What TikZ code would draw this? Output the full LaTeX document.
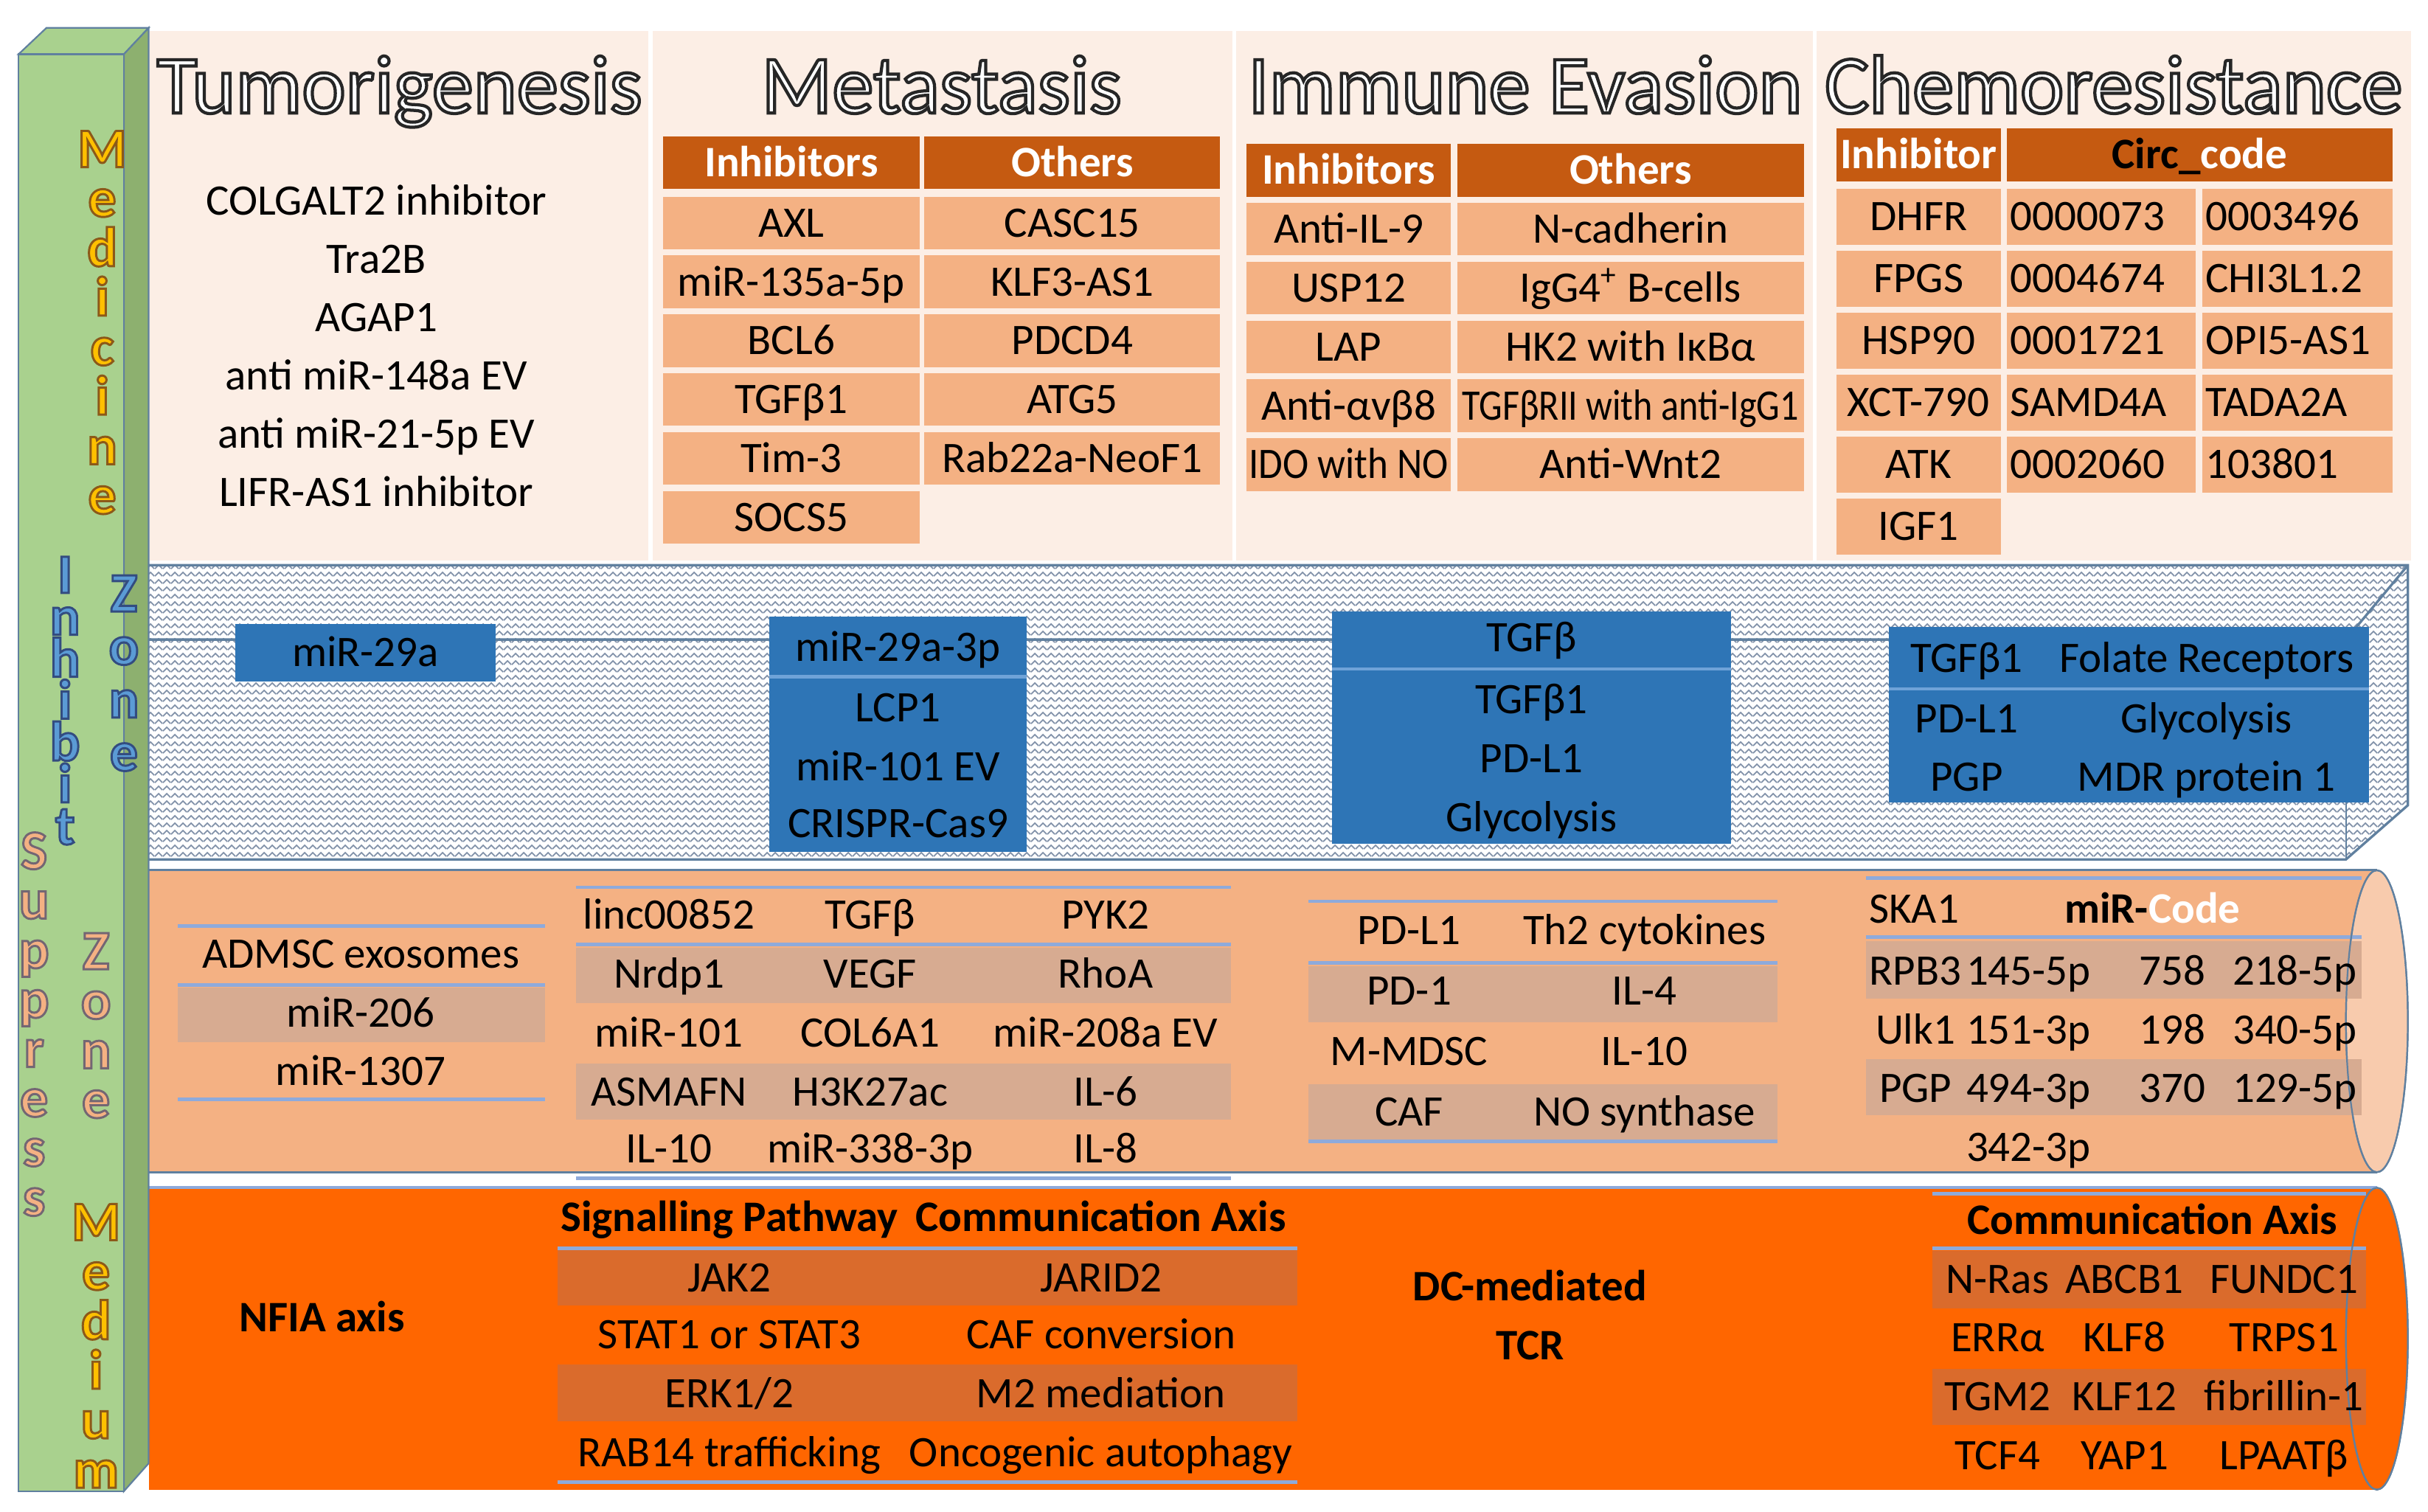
\documentclass[tikz,border=0pt]{standalone}
\usepackage{fontspec}
\usepackage{graphicx}
\setmainfont{Carlito}
\usetikzlibrary{patterns}
\definecolor{peach}{HTML}{FCEEE5}
\definecolor{hdr}{HTML}{C55A11}
\definecolor{cellc}{HTML}{F4B183}
\definecolor{bluebox}{HTML}{2E75B6}
\definecolor{bluesep}{HTML}{6FA3D8}
\definecolor{shadeA}{HTML}{D7AB91}
\definecolor{medorange}{HTML}{FF6600}
\definecolor{shadeB}{HTML}{DA6B2C}
\definecolor{rule}{HTML}{8EAADB}
\definecolor{edge}{HTML}{60809F}
\definecolor{grn}{HTML}{A9D18E}
\definecolor{grnside}{HTML}{8DB06F}
\definecolor{capc}{HTML}{F8CBAD}
\definecolor{hatch}{HTML}{8393AA}
\definecolor{gold}{HTML}{FFC000}
\definecolor{lblue}{HTML}{5B9BD5}
\definecolor{salm}{HTML}{F4B183}
\pgfdeclarepatternformonly{zigz}{\pgfqpoint{0pt}{0pt}}{\pgfqpoint{3pt}{2.7pt}}{\pgfqpoint{3pt}{2.7pt}}{%
 \pgfsetlinewidth{0.5pt}%
 \pgfpathmoveto{\pgfqpoint{0pt}{0.5pt}}%
 \pgfpathlineto{\pgfqpoint{1.5pt}{1.9pt}}%
 \pgfpathlineto{\pgfqpoint{3pt}{0.5pt}}%
 \pgfusepath{stroke}}
\newcommand\body{\fontsize{16}{19}\selectfont}
\newcommand\ttl{\fontsize{30.5}{36}\selectfont}
\newcommand\outl[3]{\special{pdf:literal direct 2 Tr #2 w #1 RG}#3\special{pdf:literal direct 0 Tr 0.4 w}}
\newcommand\lgo[1]{\outl{0.55 0.35 0.1}{0.8}{#1}}
\newcommand\lbl[1]{\outl{0.2 0.3 0.5}{0.8}{#1}}
\newcommand\lsa[1]{\outl{0.45 0.4 0.45}{0.8}{#1}}
\newcommand\hd[1]{\textcolor{white}{\bfseries #1}}
\newcommand\cel[7]{\fill[#1] ({#3},{#4}) rectangle ({#5},{#6}); \node[txt] (#2) at ({(#3+#5)/2},{(#4+#6)/2}) {#7};}
\begin{document}
\begin{tikzpicture}[x=0.02cm,y=-0.02cm,
 txt/.style={inner sep=0pt,text height=10.3pt,text depth=0pt,font=\body},
 stk/.style={inner sep=0pt,anchor=north,align=center,font={\fontsize{20.5}{#1}\selectfont\bfseries}},
 tnode/.style={inner sep=0pt,anchor=base,font=\ttl,text=white},
 rl/.style={draw=rule,line width=1.3pt}]
\useasboundingbox (0,0) rectangle (1568,976);
\fill[white] (0,0) rectangle (1568,976);
% top panel
\fill[peach] (96,20) rectangle (1557,362);
\foreach \xx in {420,797,1172} \draw[white,line width=1.5pt] (\xx,20) -- (\xx,362);
% inhibit band
\path[fill=white] (96,365) -- (1555,365) -- (1555,520) -- (1515,555) -- (96,555) -- cycle;
\path[pattern=zigz,pattern color=hatch] (96,365) -- (1555,365) -- (1555,520) -- (1515,555) -- (96,555) -- cycle;
\draw[edge,line width=0.9pt] (96,365) -- (1555,365) -- (1555,520) -- (1515,555) -- (96,555);
\draw[edge,line width=0.9pt] (96,413) -- (1515,413) -- (1555,365);
\draw[edge,line width=0.6pt] (1515,413) -- (1515,555);
% blue boxes
\fill[bluebox] (152,403) rectangle (320,440);
\node[txt] (b1) at (236,421.5) {miR-29a};
\fill[bluebox] (497,398) rectangle (663,550);
\draw[bluesep,line width=1.2pt] (497,437) -- (663,437);
\node[txt] (b2a) at (580,418) {miR-29a-3p};
\node[txt] (b2b) at (580,457) {LCP1};
\node[txt] (b2c) at (580,495) {miR-101 EV};
\node[txt] (b2d) at (580,532) {CRISPR-Cas9};
\fill[bluebox] (860,395) rectangle (1118,545);
\draw[bluesep,line width=1.2pt] (860,432) -- (1118,432);
\node[txt] (b3a) at (989,412) {TGFβ};
\node[txt] (b3b) at (989,452) {TGFβ1};
\node[txt] (b3c) at (989,490) {PD-L1};
\node[txt] (b3d) at (989,528) {Glycolysis};
\fill[bluebox] (1220,405) rectangle (1530,518);
\draw[bluesep,line width=1.2pt] (1220,445) -- (1530,445);
\node[txt] (b4a) at (1270,425) {TGFβ1};
\node[txt] (b4b) at (1425,425) {Folate Receptors};
\node[txt] (b4c) at (1270,464) {PD-L1};
\node[txt] (b4d) at (1425,464) {Glycolysis};
\node[txt] (b4e) at (1270,502) {PGP};
\node[txt] (b4f) at (1425,502) {MDR protein 1};
% suppress band
\fill[cellc] (96,562) rectangle (1535,757);
\filldraw[fill=capc,draw=edge,line width=0.6pt] (1535,659.5) ellipse [x radius=0.4cm, y radius=1.95cm];
\draw[edge,line width=0.8pt] (96,562) -- (1535,562) (96,757) -- (1535,757);
% medium band
\fill[medorange] (96,767) rectangle (1535,962);
\filldraw[fill=medorange,draw=edge,line width=0.6pt] (1535,864.5) ellipse [x radius=0.4cm, y radius=1.95cm];
\draw[rule,line width=1pt] (96,767) -- (1535,767);
% green bar
\filldraw[fill=grn,draw=edge,line width=0.6pt] (12,35) -- (30,18) -- (96,18) -- (80,35) -- cycle;
\filldraw[fill=grnside,draw=edge,line width=0.6pt] (80,35) -- (96,18) -- (96,945) -- (80,963) -- cycle;
\filldraw[fill=grn,draw=edge,line width=0.6pt] (12,35) rectangle (80,963);
% titles
\node[tnode] (t1) at (258,73) {\outl{0.15 0.15 0.15}{1.15}{Tumorigenesis}};
\node[tnode] (t2) at (608,73) {\outl{0.15 0.15 0.15}{1.15}{Metastasis}};
\node[tnode] (t3) at (985,73) {\outl{0.15 0.15 0.15}{1.15}{Immune Evasion}};
\node[tnode] (t4) at (1365,73) {\outl{0.15 0.15 0.15}{1.15}{Chemoresistance}};
% tumorigenesis list
\foreach \t [count=\i] in {COLGALT2 inhibitor, Tra2B, AGAP1, anti miR-148a EV, anti miR-21-5p EV, LIFR-AS1 inhibitor}
 \node[txt] (tum\i) at (243,{130+37.6*(\i-1)}) {\t};
% metastasis table
\cel{hdr}{mh1}{428}{88}{594}{122}{\hd{Inhibitors}}
\cel{hdr}{mh2}{597}{88}{788}{122}{\hd{Others}}
\cel{cellc}{ma1}{428}{127}{594}{161}{AXL}
\cel{cellc}{mb1}{597}{127}{788}{161}{CASC15}
\cel{cellc}{ma2}{428}{165}{594}{199}{miR-135a-5p}
\cel{cellc}{mb2}{597}{165}{788}{199}{KLF3-AS1}
\cel{cellc}{ma3}{428}{203}{594}{237}{BCL6}
\cel{cellc}{mb3}{597}{203}{788}{237}{PDCD4}
\cel{cellc}{ma4}{428}{241}{594}{275}{TGFβ1}
\cel{cellc}{mb4}{597}{241}{788}{275}{ATG5}
\cel{cellc}{ma5}{428}{279}{594}{313}{Tim-3}
\cel{cellc}{mb5}{597}{279}{788}{313}{Rab22a-NeoF1}
\cel{cellc}{ma6}{428}{317}{594}{351}{SOCS5}
% immune evasion table
\cel{hdr}{ih1}{805}{93}{937}{127}{\hd{Inhibitors}}
\cel{hdr}{ih2}{941}{93}{1165}{127}{\hd{Others}}
\cel{cellc}{ia1}{805}{131}{937}{165}{Anti-IL-9}
\cel{cellc}{ib1}{941}{131}{1165}{165}{N-cadherin}
\cel{cellc}{ia2}{805}{169}{937}{203}{USP12}
\cel{cellc}{ib2}{941}{169}{1165}{203}{IgG4\textsuperscript{+} B-cells}
\cel{cellc}{ia3}{805}{207}{937}{241}{LAP}
\cel{cellc}{ib3}{941}{207}{1165}{241}{HK2 with IκBα}
\cel{cellc}{ia4}{805}{245}{937}{279}{Anti-αvβ8}
\cel{cellc}{ib4}{941}{245}{1165}{279}{\scalebox{0.85}[1]{TGFβRII with anti-IgG1}}
\cel{cellc}{ia5}{805}{283}{937}{317}{\scalebox{0.9}[1]{IDO with NO}}
\cel{cellc}{ib5}{941}{283}{1165}{317}{Anti-Wnt2}
% chemoresistance table
\cel{hdr}{ch1}{1186}{83}{1292}{117}{\hd{Inhibitor}}
\cel{hdr}{ch2}{1296}{83}{1545}{117}{\textbf{Circ\_\textcolor{white}{code}}}
\foreach \a/\b/\c [count=\i] in {DHFR/0000073/0003496, FPGS/0004674/CHI3L1.2, HSP90/0001721/OPI5-AS1, XCT-790/SAMD4A/TADA2A, ATK/0002060/103801}{
 \pgfmathsetmacro\ya{122+40*(\i-1)}
 \pgfmathsetmacro\yb{158+40*(\i-1)}
 \pgfmathsetmacro\yc{140+40*(\i-1)}
 \cel{cellc}{ca\i}{1186}{\ya}{1292}{\yb}{\a}
 \fill[cellc] (1296,\ya) rectangle (1418,\yb);
 \fill[cellc] (1422,\ya) rectangle (1545,\yb);
 \node[txt,anchor=west] (cb\i) at (1298,\yc) {\b};
 \node[txt,anchor=west] (cc\i) at (1424,\yc) {\c};
}
\cel{cellc}{ca6}{1186}{322}{1292}{358}{IGF1}
% suppress zone contents: left group
\fill[shadeA] (115,638) rectangle (352,673);
\draw[rl] (115,598) -- (352,598) (115,636) -- (352,636) (115,710) -- (352,710);
\node[txt] (s1) at (233,616) {ADMSC exosomes};
\node[txt] (s2) at (233,654) {miR-206};
\node[txt] (s3) at (233,692) {miR-1307};
% middle group
\fill[shadeA] (372,612) rectangle (795,648);
\fill[shadeA] (372,687) rectangle (795,723);
\draw[rl] (372,573) -- (795,573) (372,610) -- (795,610) (372,761) -- (795,761);
\node[txt] (m11) at (432,591) {linc00852};
\node[txt] (m12) at (562,591) {TGFβ};
\node[txt] (m13) at (714,591) {PYK2};
\node[txt] (m21) at (432,629) {Nrdp1};
\node[txt] (m22) at (562,629) {VEGF};
\node[txt] (m23) at (714,629) {RhoA};
\node[txt] (m31) at (432,667) {miR-101};
\node[txt] (m32) at (562,667) {COL6A1};
\node[txt] (m33) at (714,667) {miR-208a EV};
\node[txt] (m41) at (432,705) {ASMAFN};
\node[txt] (m42) at (562,705) {H3K27ac};
\node[txt] (m43) at (714,705) {IL-6};
\node[txt] (m51) at (432,742) {IL-10};
\node[txt] (m52) at (562,742) {miR-338-3p};
\node[txt] (m53) at (714,742) {IL-8};
% third group
\fill[shadeA] (845,624) rectangle (1148,660);
\fill[shadeA] (845,700) rectangle (1148,736);
\draw[rl] (845,582) -- (1148,582) (845,622) -- (1148,622) (845,737) -- (1148,737);
\node[txt] (p11) at (910,601) {PD-L1};
\node[txt] (p12) at (1062,601) {Th2 cytokines};
\node[txt] (p21) at (910,640) {PD-1};
\node[txt] (p22) at (1062,640) {IL-4};
\node[txt] (p31) at (910,679) {M-MDSC};
\node[txt] (p32) at (1062,679) {IL-10};
\node[txt] (p41) at (910,718) {CAF};
\node[txt] (p42) at (1062,718) {NO synthase};
% right group
\fill[shadeA] (1205,608) rectangle (1525,645);
\fill[shadeA] (1205,684) rectangle (1525,720);
\draw[rl] (1205,567) -- (1525,567) (1205,605) -- (1525,605);
\draw[edge,line width=0.6pt] (1535,659.5) ellipse [x radius=0.4cm, y radius=1.95cm];
\node[txt] (r01) at (1236,587) {SKA1};
\node[txt] (r02) at (1390,587) {\textbf{miR-\textcolor{white}{Code}}};
\node[txt] (r11) at (1237,627) {RPB3};
\node[txt] (r12) at (1310,627) {145-5p};
\node[txt] (r13) at (1403,627) {758};
\node[txt] (r14) at (1482,627) {218-5p};
\node[txt] (r21) at (1237,665) {Ulk1};
\node[txt] (r22) at (1310,665) {151-3p};
\node[txt] (r23) at (1403,665) {198};
\node[txt] (r24) at (1482,665) {340-5p};
\node[txt] (r31) at (1237,703) {PGP};
\node[txt] (r32) at (1310,703) {494-3p};
\node[txt] (r33) at (1403,703) {370};
\node[txt] (r34) at (1482,703) {129-5p};
\node[txt] (r42) at (1310,741) {342-3p};
% medium zone contents
\node[txt] (n1) at (208,851) {\textbf{NFIA axis}};
\fill[shadeB] (360,807) rectangle (838,843);
\fill[shadeB] (360,881) rectangle (838,918);
\draw[rl] (360,806) -- (838,806) (360,957) -- (838,957);
\node[txt] (g01) at (471,786) {\textbf{Signalling Pathway}};
\node[txt] (g02) at (711,786) {\textbf{Communication Axis}};
\node[txt] (g11) at (471,825) {JAK2};
\node[txt] (g12) at (711,825) {JARID2};
\node[txt] (g21) at (471,862) {STAT1 or STAT3};
\node[txt] (g22) at (711,862) {CAF conversion};
\node[txt] (g31) at (471,900) {ERK1/2};
\node[txt] (g32) at (711,900) {M2 mediation};
\node[txt] (g41) at (471,938) {RAB14 trafficking};
\node[txt] (g42) at (711,938) {Oncogenic autophagy};
\node[txt] (dc1) at (988,831) {\textbf{DC-mediated}};
\node[txt] (dc2) at (988,869) {\textbf{TCR}};
\fill[shadeB] (1248,808) rectangle (1528,845);
\fill[shadeB] (1248,884) rectangle (1528,920);
\draw[rl] (1248,771) -- (1528,771) (1248,806) -- (1528,806);
\draw[edge,line width=0.6pt] (1535,864.5) ellipse [x radius=0.4cm, y radius=1.95cm];
\node[txt] (k0) at (1390,788) {\textbf{Communication Axis}};
\node[txt] (k11) at (1290,826) {N-Ras};
\node[txt] (k12) at (1372,826) {ABCB1};
\node[txt] (k13) at (1475,826) {FUNDC1};
\node[txt] (k21) at (1290,864) {ERRα};
\node[txt] (k22) at (1372,864) {KLF8};
\node[txt] (k23) at (1475,864) {TRPS1};
\node[txt] (k31) at (1290,902) {TGM2};
\node[txt] (k32) at (1372,902) {KLF12};
\node[txt] (k33) at (1475,902) {fibrillin-1};
\node[txt] (k41) at (1290,940) {TCF4};
\node[txt] (k42) at (1372,940) {YAP1};
\node[txt] (k43) at (1475,940) {LPAATβ};
% side letters (stacked)
\node[stk=18.2pt,text=gold] (medicine) at (66,84.2) {\lgo{M}\\\lgo{e}\\\lgo{d}\\\lgo{i}\\\lgo{c}\\\lgo{i}\\\lgo{n}\\\lgo{e}};
\node[stk=15.4pt,text=lblue] (inhibit) at (42,359.2) {\lbl{I}\\\lbl{n}\\\lbl{h}\\\lbl{i}\\\lbl{b}\\\lbl{i}\\\lbl{t}};
\node[stk=19.5pt,text=lblue] (zoneb) at (80,371.2) {\lbl{Z}\\\lbl{o}\\\lbl{n}\\\lbl{e}};
\node[stk=18.2pt,text=salm] (suppress) at (22,537.2) {\lsa{S}\\\lsa{u}\\\lsa{p}\\\lsa{p}\\\lsa{r}\\\lsa{e}\\\lsa{s}\\\lsa{s}};
\node[stk=18.2pt,text=salm] (zones) at (62,602.2) {\lsa{Z}\\\lsa{o}\\\lsa{n}\\\lsa{e}};
\node[stk=18.2pt,text=gold] (medium) at (62,777.2) {\lgo{M}\\\lgo{e}\\\lgo{d}\\\lgo{i}\\\lgo{u}\\\lgo{m}};
\end{tikzpicture}
\end{document}
